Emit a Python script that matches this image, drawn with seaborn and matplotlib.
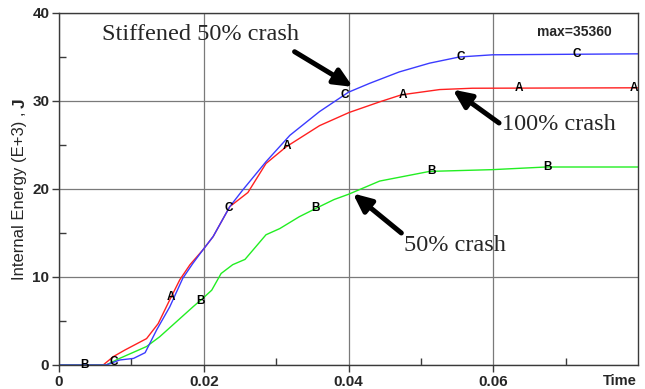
import numpy as np
import pandas as pd
import matplotlib
matplotlib.use("Agg")
import matplotlib.pyplot as plt
from matplotlib.ticker import FixedFormatter, FixedLocator
import seaborn as sns

# Internal energy histories (time in s, energy in E+3 J)
t_a = [0, 0.0061, 0.0075, 0.0091, 0.0121, 0.0137, 0.0153, 0.0167, 0.0181, 0.0199,
       0.0213, 0.0236, 0.0261, 0.0286, 0.0314, 0.0360, 0.0401, 0.0443, 0.0473,
       0.0526, 0.0571, 0.0800]
e_a = [0, 0, 0.95, 1.7, 3.0, 4.7, 7.4, 9.7, 11.4, 13.1,
       14.6, 18.0, 19.6, 22.9, 24.8, 27.2, 28.7, 29.9, 30.7,
       31.3, 31.45, 31.5]

t_b = [0, 0.0065, 0.0084, 0.0121, 0.0139, 0.0162, 0.0185, 0.0199, 0.0211, 0.0224,
       0.0240, 0.0257, 0.0286, 0.0305, 0.0332, 0.0360, 0.0380, 0.0400, 0.0443,
       0.0512, 0.0599, 0.0673, 0.0800]
e_b = [0, 0, 0.76, 2.1, 3.2, 4.9, 6.6, 7.6, 8.5, 10.4,
       11.4, 12.0, 14.8, 15.5, 16.85, 18.0, 18.8, 19.4, 20.9,
       22.0, 22.2, 22.5, 22.5]

t_c = [0, 0.0065, 0.0084, 0.0103, 0.0119, 0.0135, 0.0153, 0.0171, 0.0185, 0.0199,
       0.0213, 0.0236, 0.0254, 0.0286, 0.0319, 0.0360, 0.0400, 0.0429, 0.0470,
       0.0512, 0.0553, 0.0599, 0.0800]
e_c = [0, 0, 0.57, 0.75, 1.4, 4.0, 6.6, 9.85, 11.55, 13.1,
       14.6, 18.0, 19.9, 23.1, 26.1, 28.8, 31.0, 32.0, 33.3,
       34.3, 35.0, 35.25, 35.36]

# curve letter positions along time
mark_a = [0.0155, 0.0315, 0.0475, 0.0635, 0.0795]
mark_b = [0.0035, 0.0195, 0.0355, 0.0515, 0.0675]
mark_c = [0.0075, 0.0235, 0.0395, 0.0555, 0.0715]

x_ticks = [0, 0.02, 0.04, 0.06]
x_tick_labels = ["0", "0.02", "0.04", "0.06"]
y_ticks = [0, 10, 20, 30, 40]

sns.set_theme(style="white")
plt.rcParams["font.family"] = ["Liberation Sans", "DejaVu Sans"]

fig = plt.figure(figsize=(6.45, 3.89), dpi=100)
ax = fig.add_axes([59 / 645, 24 / 389, 579 / 645, 352 / 389])

series = [
    (t_a, e_a, "#ff2020", "A", mark_a),
    (t_b, e_b, "#22ee22", "B", mark_b),
    (t_c, e_c, "#3b3bff", "C", mark_c),
]
for t, e, col, letter, marks in series:
    df = pd.DataFrame({"time": t, "energy": e})
    sns.lineplot(data=df, x="time", y="energy", color=col, lw=1.0,
                 estimator=None, sort=False, ax=ax)
    for m in marks:
        ax.text(m, np.interp(m, t, e), letter, ha="center", va="center",
                fontsize=8.5, fontweight="bold", color="black", zorder=5)

ax.set_xlim(0, 0.08)
ax.set_ylim(0, 40)
ax.xaxis.set_major_locator(FixedLocator(x_ticks))
ax.xaxis.set_major_formatter(FixedFormatter(x_tick_labels))
ax.xaxis.set_minor_locator(FixedLocator([0.01, 0.03, 0.05, 0.07]))
ax.yaxis.set_major_locator(FixedLocator(y_ticks))
ax.yaxis.set_minor_locator(FixedLocator([5, 15, 25, 35]))
ax.set_xlabel("")
ax.set_ylabel("")

ax.grid(True, which="major", color="#7a7a7a", lw=0.9)
ax.set_axisbelow(True)
for s in ax.spines.values():
    s.set_color("#3a3a3a")
    s.set_linewidth(1.0)

ax.tick_params(which="major", direction="out", length=5, width=1, color="#3a3a3a",
               bottom=True, left=True, labelsize=11, pad=2)
ax.tick_params(which="minor", direction="in", length=5, width=1, color="#3a3a3a",
               bottom=True, left=True)
for lab in ax.get_xticklabels() + ax.get_yticklabels():
    lab.set_fontweight("bold")

# axis captions
fig.text(20 / 645, (389 - 280) / 389, "Internal Energy (E+3) ,", rotation=90,
         ha="center", va="bottom", fontsize=12)
fig.text(20 / 645, (389 - 108) / 389, "J", rotation=90,
         ha="center", va="bottom", fontsize=12.5, fontweight="bold")
fig.text(637 / 645, (389 - 381) / 389, "Time", ha="right", va="center",
         fontsize=10.5, fontweight="bold")
ax.text(0.0764, 37.8, "max=35360", ha="right", va="center",
        fontsize=10, fontweight="bold")

# callouts
arrow = dict(arrowstyle="-|>,head_length=1.1,head_width=0.5", lw=3.6,
             color="black", shrinkA=0, shrinkB=0, mutation_scale=10,
             capstyle="round")
serif = ["Liberation Serif", "DejaVu Serif"]
ax.annotate("", xy=(0.0406, 31.6), xytext=(0.03255, 35.6), arrowprops=arrow)
ax.text(0.0059, 37.5, "Stiffened 50% crash", ha="left", va="center",
        fontsize=17.5, family=serif)
ax.annotate("", xy=(0.0544, 31.3), xytext=(0.0608, 27.5), arrowprops=arrow)
ax.text(0.0612, 27.3, "100% crash", ha="left", va="center",
        fontsize=17.5, family=serif)
ax.annotate("", xy=(0.0406, 19.5), xytext=(0.0473, 15.0), arrowprops=arrow)
ax.text(0.0477, 13.6, "50% crash", ha="left", va="center",
        fontsize=17.5, family=serif)

fig.savefig("out.png", dpi=100)
